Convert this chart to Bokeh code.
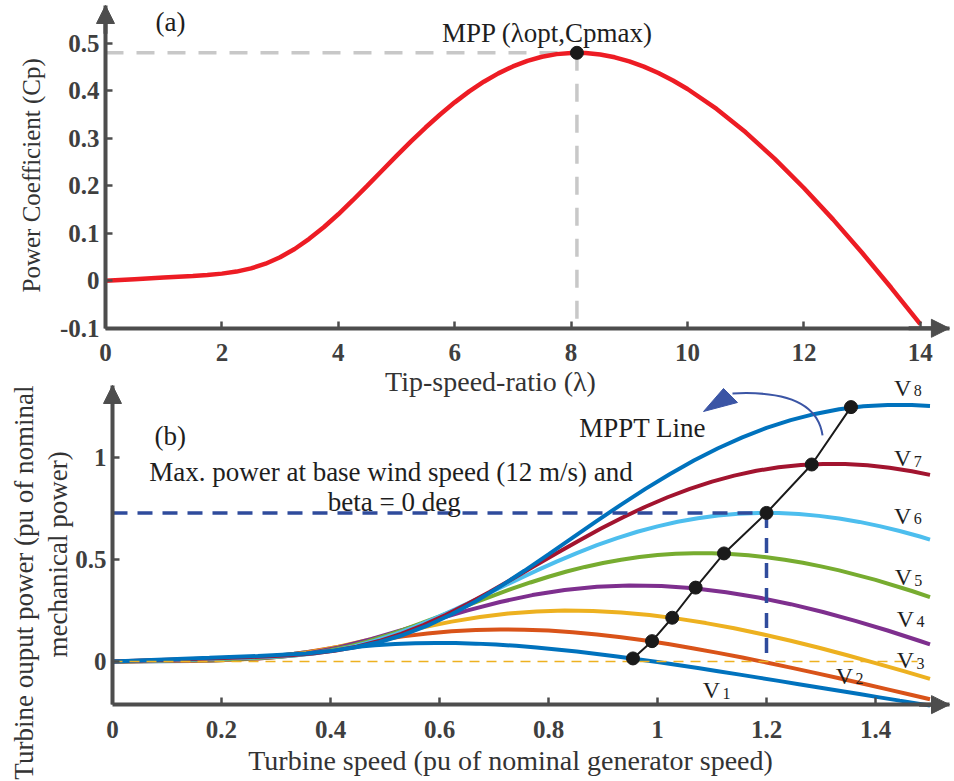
import math
from bokeh.plotting import figure
from bokeh.layouts import column
from bokeh.models import Range1d, FixedTicker, Label, Arrow, NormalHead
from bokeh.embed import file_html
from bokeh.resources import INLINE

# ---------------- (a) power coefficient vs tip-speed ratio ----------------
tsr = [0, 0.5, 1, 1.5, 1.75, 2, 2.25, 2.5, 2.75, 3, 3.25, 3.5, 3.75, 4, 4.25, 4.5, 4.75,
       5, 5.25, 5.5, 5.75, 6, 6.25, 6.5, 6.75, 7, 7.25, 7.5, 7.75, 8, 8.25, 8.5, 8.75, 9,
       9.25, 9.5, 9.75, 10, 10.5, 11, 11.5, 12, 12.5, 13, 13.5, 14]
cp = [0, 0.0034, 0.0068, 0.0103, 0.0123, 0.0151, 0.0194, 0.0261, 0.0360, 0.0496, 0.0670,
      0.0883, 0.1128, 0.1401, 0.1696, 0.2003, 0.2316, 0.2629, 0.2934, 0.3227, 0.3502,
      0.3757, 0.3987, 0.4191, 0.4367, 0.4513, 0.4629, 0.4716, 0.4772, 0.4797, 0.4795,
      0.4764, 0.4705, 0.4620, 0.4510, 0.4374, 0.4217, 0.4038, 0.3618, 0.3125, 0.2567,
      0.1954, 0.1293, 0.0590, -0.0147, -0.0913]
mpp_tsr = 8.1
mpp_cp = 0.48
a_xticks = [0.0, 2.0, 4.0, 6.0, 8.0, 10.0, 12.0, 14.0]
a_xlabels = ["0", "2", "4", "6", "8", "10", "12", "14"]
a_yticks = [-0.1, 0.0, 0.1, 0.2, 0.3, 0.4, 0.5]
a_ylabels = ["-0.1", "0", "0.1", "0.2", "0.3", "0.4", "0.5"]

# ---------------- (b) turbine power vs turbine speed ----------------
V1_speed = [0, 0.0741, 0.1481, 0.1852, 0.2222, 0.2593, 0.2963, 0.3333, 0.3704, 0.4074,
            0.4444, 0.4815, 0.5185, 0.5556, 0.5926, 0.6296, 0.6667, 0.7037, 0.7407, 0.7778,
            0.8148, 0.8519, 0.8889, 0.9259, 0.9630, 1.0, 1.0370, 1.0741, 1.1111, 1.1481,
            1.1852, 1.2222, 1.2593, 1.2963, 1.3333, 1.3704, 1.4074, 1.4444, 1.4815, 1.5]
V1_power = [0, 0.0013, 0.0029, 0.0050, 0.0094, 0.0168, 0.0266, 0.0381, 0.0500, 0.0613,
            0.0714, 0.0797, 0.0858, 0.0897, 0.0912, 0.0906, 0.0878, 0.0832, 0.0768, 0.0688,
            0.0594, 0.0488, 0.0371, 0.0246, 0.0112, -0.0028, -0.0174, -0.0324, -0.0478,
            -0.0634, -0.0793, -0.0953, -0.1115, -0.1277, -0.1439, -0.1601, -0.1762,
            -0.1923, -0.2082, -0.2162]
V2_speed = [0, 0.0889, 0.1778, 0.2222, 0.2667, 0.3111, 0.3556, 0.4, 0.4444, 0.4889, 0.5333,
            0.5778, 0.6222, 0.6667, 0.7111, 0.7556, 0.8, 0.8444, 0.8889, 0.9333, 0.9778,
            1.0222, 1.0667, 1.1111, 1.1556, 1.2, 1.2444, 1.2889, 1.3333, 1.3778, 1.4222,
            1.4667, 1.5]
V2_power = [0, 0.0022, 0.0050, 0.0086, 0.0163, 0.0290, 0.0460, 0.0658, 0.0864, 0.1060,
            0.1234, 0.1377, 0.1483, 0.1549, 0.1576, 0.1565, 0.1518, 0.1437, 0.1326, 0.1189,
            0.1027, 0.0843, 0.0642, 0.0425, 0.0194, -0.0048, -0.0300, -0.0559, -0.0825,
            -0.1096, -0.1370, -0.1647, -0.1856]
V3_speed = [0, 0.1037, 0.2074, 0.2333, 0.2593, 0.2852, 0.3111, 0.3630, 0.4148, 0.4667,
            0.5185, 0.5704, 0.6222, 0.6741, 0.7259, 0.7778, 0.8296, 0.8815, 0.9333, 0.9852,
            1.0370, 1.0889, 1.1407, 1.1926, 1.2444, 1.2963, 1.3481, 1.4, 1.4519, 1.5]
V3_power = [0, 0.0035, 0.0079, 0.0101, 0.0136, 0.0188, 0.0259, 0.0461, 0.0731, 0.1045,
            0.1371, 0.1683, 0.1960, 0.2186, 0.2354, 0.2460, 0.2502, 0.2485, 0.2410, 0.2282,
            0.2106, 0.1887, 0.1630, 0.1339, 0.1019, 0.0674, 0.0308, -0.0077, -0.0476, -0.0858]
V4_speed = [0, 0.1185, 0.2370, 0.2667, 0.2963, 0.3259, 0.3556, 0.4148, 0.4741, 0.5333,
            0.5926, 0.6519, 0.7111, 0.7704, 0.8296, 0.8889, 0.9481, 1.0074, 1.0667, 1.1259,
            1.1852, 1.2444, 1.3037, 1.3630, 1.4222, 1.4815, 1.5]
V4_power = [0, 0.0053, 0.0118, 0.0151, 0.0203, 0.0280, 0.0386, 0.0688, 0.1091, 0.1560,
            0.2047, 0.2513, 0.2925, 0.3263, 0.3514, 0.3672, 0.3735, 0.3710, 0.3597, 0.3406,
            0.3144, 0.2817, 0.2433, 0.1999, 0.1522, 0.1007, 0.0839]
V5_speed = [0, 0.1333, 0.2, 0.2667, 0.3, 0.3333, 0.3667, 0.4, 0.4333, 0.4667, 0.5, 0.5333,
            0.5667, 0.6, 0.6333, 0.6667, 0.7, 0.7333, 0.7667, 0.8, 0.8333, 0.8667, 0.9,
            0.9333, 0.9667, 1.0, 1.0333, 1.0667, 1.1, 1.1333, 1.1667, 1.2, 1.2333, 1.2667,
            1.3, 1.3333, 1.4, 1.4667, 1.5]
V5_power = [0, 0.0075, 0.0114, 0.0167, 0.0215, 0.0289, 0.0399, 0.0550, 0.0743, 0.0979,
            0.1251, 0.1553, 0.1880, 0.2221, 0.2568, 0.2915, 0.3253, 0.3578, 0.3883, 0.4165,
            0.4420, 0.4647, 0.4842, 0.5004, 0.5132, 0.5229, 0.5291, 0.5318, 0.5316, 0.5282,
            0.5216, 0.5122, 0.5000, 0.4849, 0.4675, 0.4477, 0.4011, 0.3465, 0.3163]
V6_speed = [0, 0.1481, 0.2222, 0.2963, 0.3333, 0.3704, 0.4074, 0.4444, 0.4815, 0.5185,
            0.5556, 0.5926, 0.6296, 0.6667, 0.7037, 0.7407, 0.7778, 0.8148, 0.8519, 0.8889,
            0.9259, 0.9630, 1.0, 1.0370, 1.0741, 1.1111, 1.1481, 1.1852, 1.2222, 1.2593,
            1.2963, 1.3333, 1.3704, 1.4074, 1.4444, 1.4815, 1.5]
V6_power = [0, 0.0103, 0.0157, 0.0230, 0.0295, 0.0397, 0.0547, 0.0754, 0.1019, 0.1343,
            0.1716, 0.2131, 0.2579, 0.3046, 0.3522, 0.3998, 0.4462, 0.4908, 0.5326, 0.5714,
            0.6064, 0.6374, 0.6642, 0.6864, 0.7040, 0.7172, 0.7257, 0.7295, 0.7292, 0.7245,
            0.7156, 0.7026, 0.6859, 0.6652, 0.6413, 0.6141, 0.5992]
V7_speed = [0, 0.1630, 0.2444, 0.3259, 0.3667, 0.4074, 0.4481, 0.4889, 0.5296, 0.5704,
            0.6111, 0.6519, 0.6926, 0.7333, 0.7741, 0.8148, 0.8556, 0.8963, 0.9370, 0.9778,
            1.0185, 1.0593, 1.1, 1.1407, 1.1815, 1.2222, 1.2630, 1.3037, 1.3444, 1.3852,
            1.4259, 1.4667, 1.5]
V7_power = [0, 0.0138, 0.0208, 0.0306, 0.0393, 0.0528, 0.0729, 0.1004, 0.1356, 0.1787,
            0.2283, 0.2836, 0.3433, 0.4055, 0.4688, 0.5322, 0.5939, 0.6532, 0.7089, 0.7605,
            0.8071, 0.8484, 0.8840, 0.9135, 0.9370, 0.9546, 0.9660, 0.9710, 0.9706, 0.9643,
            0.9524, 0.9352, 0.9172]
V8_speed = [0, 0.1778, 0.2667, 0.3556, 0.4, 0.4444, 0.4889, 0.5333, 0.5778, 0.6222, 0.6667,
            0.7111, 0.7556, 0.8, 0.8444, 0.8889, 0.9333, 0.9778, 1.0222, 1.0667, 1.1111,
            1.1556, 1.2, 1.2444, 1.2889, 1.3333, 1.3778, 1.4222, 1.4667, 1.5]
V8_power = [0, 0.0179, 0.0271, 0.0397, 0.0510, 0.0686, 0.0946, 0.1303, 0.1761, 0.2321,
            0.2964, 0.3682, 0.4457, 0.5264, 0.6086, 0.6909, 0.7711, 0.8481, 0.9203, 0.9873,
            1.0478, 1.1014, 1.1476, 1.1860, 1.2165, 1.2394, 1.2541, 1.2606, 1.2601, 1.2549]

curve_names = ["V1", "V2", "V3", "V4", "V5", "V6", "V7", "V8"]
curve_colors = ["#0072BD", "#D95319", "#EDB120", "#7E2F8E", "#77AC30", "#4DBEEE",
                "#A2142F", "#0072BD"]
curves_speed = [V1_speed, V2_speed, V3_speed, V4_speed, V5_speed, V6_speed, V7_speed, V8_speed]
curves_power = [V1_power, V2_power, V3_power, V4_power, V5_power, V6_power, V7_power, V8_power]

mppt_speed = [0.955, 0.990, 1.027, 1.070, 1.122, 1.200, 1.283, 1.355]
mppt_power = [0.015, 0.100, 0.215, 0.363, 0.531, 0.730, 0.968, 1.250]

base_speed = 1.2
base_power = 0.73
zero_line_end = 1.477

label_speed = [1.099, 1.343, 1.455, 1.455, 1.451, 1.450, 1.450, 1.450]
label_power = [-0.142, -0.069, 0.005, 0.211, 0.413, 0.717, 0.998, 1.346]

b_xticks = [0.0, 0.2, 0.4, 0.6, 0.8, 1.0, 1.2, 1.4]
b_xlabels = ["0", "0.2", "0.4", "0.6", "0.8", "1", "1.2", "1.4"]
b_yticks = [0.0, 0.5, 1.0]
b_ylabels = ["0", "0.5", "1"]

# decorative curved arrow next to "MPPT Line"
arc_start = (1.3028, 1.1106)
arc_c0 = (1.2954, 1.2580)
arc_c1 = (1.2440, 1.3317)
arc_end = (1.1376, 1.3170)
head_x = [1.0844, 1.1211, 1.1468]
head_y = [1.2285, 1.3415, 1.2727]

SERIF = "Liberation Serif"
AX = "#4d4d4d"
TXT = "#1e1e1e"
LBL = "#333333"


def style(p, xt, xl, yt, yl, x_at, y_at, xb, yb):
    p.grid.visible = False
    p.outline_line_color = None
    p.background_fill_color = "white"
    p.border_fill_color = "white"
    for ax in (p.xaxis[0], p.yaxis[0]):
        ax.axis_line_color = AX
        ax.axis_line_width = 4
        ax.major_tick_in = 7
        ax.major_tick_out = 0
        ax.major_tick_line_color = AX
        ax.major_tick_line_width = 2.5
        ax.minor_tick_line_color = None
        ax.major_label_text_font = SERIF
        ax.major_label_text_font_style = "bold"
        ax.major_label_text_font_size = "25px"
        ax.major_label_text_color = "#3f3f3f"
    xa, ya = p.xaxis[0], p.yaxis[0]
    xa.ticker = FixedTicker(ticks=xt)
    xa.major_label_overrides = dict(zip(xt, xl))
    xa.major_label_standoff = 16
    xa.fixed_location = x_at
    xa.bounds = xb
    ya.ticker = FixedTicker(ticks=yt)
    ya.major_label_overrides = dict(zip(yt, yl))
    ya.major_label_standoff = 6
    ya.fixed_location = y_at
    ya.bounds = yb


def arrowhead(p, x0, y0, x1, y1):
    p.add_layout(Arrow(end=NormalHead(size=18, fill_color=AX, line_color=AX, line_width=1),
                       x_start=x0, y_start=y0, x_end=x1, y_end=y1,
                       line_color=AX, line_width=4))


def label(p, x, y, text, size, color=TXT, angle=0.0, x_offset=0):
    p.add_layout(Label(x=x, y=y, text=text, text_font=SERIF, text_font_size=size,
                       text_color=color, text_align="center", text_baseline="middle",
                       angle=angle, x_offset=x_offset))


# ---------------- figure (a) ----------------
a_x0, a_x1 = -1.8041, 14.5189
a_y0, a_y1 = -0.1783, 0.5901
a_arrow_top = 0.5796
a_arrow_right = 14.50
p1 = figure(width=950, height=365, x_range=Range1d(a_x0, a_x1), y_range=Range1d(a_y0, a_y1),
            output_backend="svg", toolbar_location=None, min_border=0)
style(p1, a_xticks, a_xlabels, a_yticks, a_ylabels, -0.1, 0.0,
      (0.0, a_arrow_right), (-0.1, a_arrow_top))

p1.line([0, mpp_tsr], [mpp_cp, mpp_cp], line_color="#c8c8c8", line_width=3.5, line_dash="18 13")
p1.line([mpp_tsr, mpp_tsr], [mpp_cp, -0.1], line_color="#c8c8c8", line_width=3.5, line_dash="18 13")
p1.line(tsr, cp, line_color="#ED1C24", line_width=4.5)
p1.scatter([mpp_tsr], [mpp_cp], size=13, color="#1a1a1a")

arrowhead(p1, 0, 0.52, 0, a_arrow_top)
arrowhead(p1, 13.8, -0.1, a_arrow_right, -0.1)

label(p1, 1.117, 0.544, "(a)", "27px")
label(p1, 7.595, 0.521, "MPP (λopt,Cpmax)", "27px")
label(p1, -1.271, 0.222, "Power Coefficient (Cp)", "25px", color=LBL, angle=math.pi / 2)

# ---------------- figure (b) ----------------
b_x0, b_x1 = -0.2055, 1.5376
b_y0, b_y1 = -0.5897, 1.4545
b_axis_y = -0.212
b_arrow_top = 1.3563
b_arrow_right = 1.5358
p2 = figure(width=950, height=416, x_range=Range1d(b_x0, b_x1), y_range=Range1d(b_y0, b_y1),
            output_backend="svg", toolbar_location=None, min_border=0)
style(p2, b_xticks, b_xlabels, b_yticks, b_ylabels, b_axis_y, 0.0,
      (0.0, b_arrow_right), (b_axis_y, b_arrow_top))

for xs, ys, c in zip(curves_speed, curves_power, curve_colors):
    p2.line(xs, ys, line_color=c, line_width=4)

p2.line([0, zero_line_end], [0, 0], line_color="#EDB120", line_width=1.6, line_dash="10 7")
p2.line([0, base_speed], [base_power, base_power], line_color="#2f4b9c", line_width=3.5,
        line_dash="15 10")
p2.line([base_speed, base_speed], [base_power, 0], line_color="#2f4b9c", line_width=3.5,
        line_dash="15 10")

p2.line(mppt_speed, mppt_power, line_color="#1a1a1a", line_width=2)
p2.scatter(mppt_speed, mppt_power, size=13, color="#1a1a1a")

p2.bezier(x0=[arc_start[0]], y0=[arc_start[1]], x1=[arc_end[0]], y1=[arc_end[1]],
          cx0=[arc_c0[0]], cy0=[arc_c0[1]], cx1=[arc_c1[0]], cy1=[arc_c1[1]],
          line_color="#3b55a5", line_width=2)
p2.patch(head_x, head_y, color="#3b55a5")

arrowhead(p2, 0, 1.28, 0, b_arrow_top)
arrowhead(p2, 1.48, b_axis_y, b_arrow_right, b_axis_y)

for name, lx, ly in zip(curve_names, label_speed, label_power):
    label(p2, lx, ly, name[0], "24px")
    label(p2, lx, ly - 0.015, name[1:], "16px", x_offset=15)

label(p2, 0.106, 1.106, "(b)", "27px")
label(p2, 0.511, 0.929, "Max. power at base wind speed (12 m/s) and", "27px")
label(p2, 0.517, 0.786, "beta = 0 deg", "27px")
label(p2, 0.9725, 1.145, "MPPT Line", "27px")
label(p2, 0.6936, 1.376, "Tip-speed-ratio (λ)", "28px", color=LBL)
label(p2, 0.7303, -0.4865, "Turbine speed (pu of nominal generator speed)", "28px", color=LBL)
label(p2, -0.1615, 0.388, "Turbine ouput power (pu of nominal", "27px", color=LBL,
      angle=math.pi / 2)
label(p2, -0.1009, 0.526, "mechanical power)", "27px", color=LBL, angle=math.pi / 2)

layout = column(p1, p2)
open("out.html", "w").write(file_html(layout, INLINE))
